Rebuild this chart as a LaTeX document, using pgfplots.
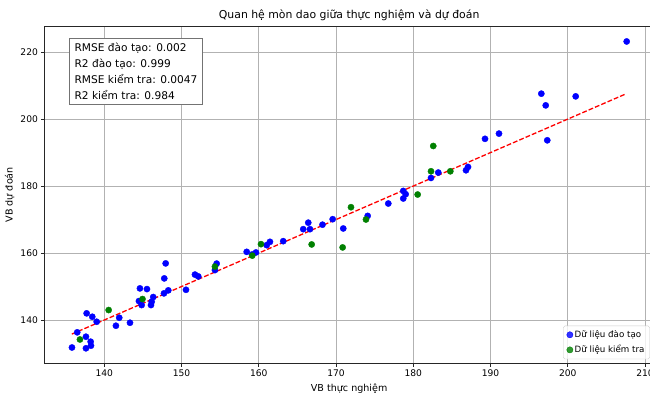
\documentclass[border=0pt]{standalone}
\usepackage{pgfplots}
\pgfplotsset{compat=1.18}
\usepackage{fontspec}
\setmainfont{DejaVu Sans}
\definecolor{mplgreen}{RGB}{0,128,0}
\pgfplotstableread{
x y
135.82 131.80
136.50 136.33
137.63 135.02
137.63 131.56
138.24 133.53
138.28 132.34
137.72 142.00
138.45 140.98
139.02 139.49
141.51 138.30
141.94 140.69
143.33 139.19
144.49 145.66
144.62 149.45
145.53 149.24
144.84 144.47
146.05 144.47
146.14 145.46
146.34 146.86
147.73 147.96
148.29 148.86
150.58 149.03
147.77 152.43
147.95 156.91
151.74 153.57
152.17 153.03
154.33 154.91
154.55 156.85
158.44 160.36
159.16 159.59
159.64 160.18
161.03 162.36
161.45 163.35
163.17 163.55
165.76 167.13
166.41 169.07
166.63 167.13
168.25 168.47
169.57 170.11
170.94 167.34
174.10 171.10
176.77 174.79
178.71 178.55
178.71 176.29
179.02 177.57
182.30 182.43
183.24 184.04
186.83 184.72
187.09 185.71
189.29 194.11
191.10 195.67
196.58 207.59
197.15 204.10
197.35 193.67
201.03 206.79
207.63 223.18
}\train
\pgfplotstableread{
x y
136.85 134.19
140.57 142.98
144.95 146.26
154.33 155.95
159.16 159.23
160.29 162.66
166.85 162.57
170.86 161.68
171.94 173.69
173.88 170.02
180.57 177.48
182.30 184.42
182.59 191.97
184.80 184.42
}\test
\begin{document}
\begin{tikzpicture}
\path[use as bounding box] (-50.6pt,-35pt) rectangle (696.9pt,418.1pt);
\clip (-50.6pt,-35pt) rectangle (696.9pt,418.1pt);
\begin{axis}[
  at={(0pt,0pt)}, anchor=south west,
  scale only axis, width=701.8pt, height=388.2pt,
  xmin=132.2, xmax=211.2, ymin=127.0, ymax=227.8,
  xtick={140,150,...,210}, ytick={140,160,...,220},
  grid=major, major grid style={color=black!30, line width=0.8pt},
  axis line style={black!85, line width=0.8pt},
  tick align=outside, major tick length=3.5pt,
  tick style={black!85, line width=0.8pt},
  tick pos=left,
  ticklabel style={font=\fontsize{10.5}{12}\selectfont},
  /pgf/number format/assume math mode=true,
  xlabel={VB thực nghiệm}, ylabel={VB dự đoán},
  label style={font=\fontsize{11}{13}\selectfont},
  xlabel style={yshift=-1.5pt},
  title={Quan hệ mòn dao giữa thực nghiệm và dự đoán},
  title style={font=\fontsize{12.5}{15}\selectfont, yshift=-3.5pt},
  legend style={at={(1,0)}, anchor=south east, xshift=-5pt, yshift=5pt,
    draw=black!20, rounded corners=2pt, fill=white, fill opacity=0.8, text opacity=1,
    font=\fontsize{10}{12}\selectfont, row sep=3.5pt, inner xsep=4pt, inner ysep=3.5pt},
  legend cell align=left,
]
\addplot[only marks, mark=*, mark size=3.6pt, color=blue] table {\train};
\addlegendentry{Dữ liệu đào tạo}
\addplot[only marks, mark=*, mark size=3.6pt, color=mplgreen] table {\test};
\addlegendentry{Dữ liệu kiểm tra}
\addplot[forget plot, red, line width=1.5pt, dash pattern=on 5.5pt off 2.4pt] coordinates {(135.8,135.8) (207.6,207.6)};
\node[draw=black!55, line width=0.8pt, fill=white, anchor=north west, align=left,
  inner xsep=6pt, inner ysep=5.5pt, font=\fontsize{12.2}{18.4}\selectfont]
  at (rel axis cs:0.041,0.965) {RMSE đào tạo: 0.002\\R2 đào tạo: 0.999\\RMSE kiểm tra: 0.0047\\R2 kiểm tra: 0.984};
\end{axis}
\end{tikzpicture}
\end{document}
